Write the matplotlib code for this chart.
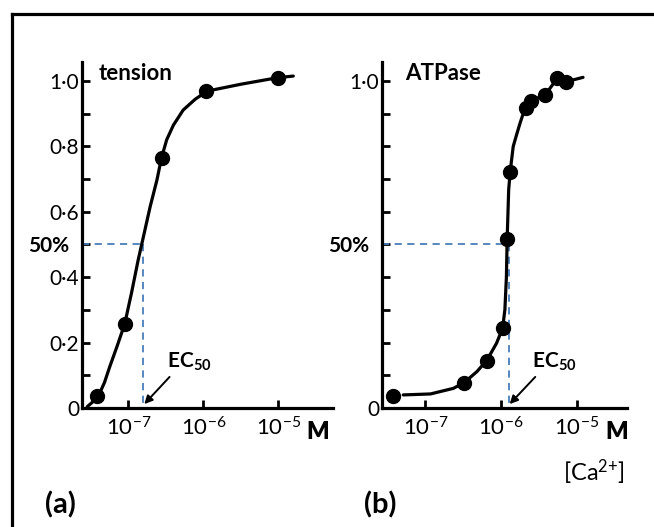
import matplotlib.pyplot as plt
import numpy as np

plt.rcParams['font.family'] = ['Lato', 'DejaVu Sans']
plt.rcParams['mathtext.fontset'] = 'custom'
plt.rcParams['mathtext.rm'] = 'Lato'
plt.rcParams['mathtext.it'] = 'Lato:italic'
plt.rcParams['mathtext.bf'] = 'Lato:bold'

# measured points, [Ca2+] in M against relative activity
tension_ca = [3.8e-8, 8.9e-8, 2.8e-7, 1.1e-6, 1.0e-5]
tension_val = [0.037, 0.257, 0.765, 0.97, 1.01]

atpase_ca = [3.8e-8, 3.2e-7, 6.5e-7, 1.05e-6, 1.2e-6, 1.32e-6,
             2.14e-6, 2.45e-6, 3.8e-6, 5.5e-6, 7.2e-6]
atpase_val = [0.037, 0.077, 0.145, 0.245, 0.517, 0.723,
              0.916, 0.94, 0.957, 1.008, 0.998]

# hand drawn curves (log10 of [Ca2+], value)
tension_curve_logx = [-7.55, -7.48, -7.40, -7.32, -7.25, -7.15, -7.05, -6.96, -6.87,
                      -6.80, -6.71, -6.62, -6.56, -6.49, -6.40, -6.27, -6.11, -5.95,
                      -5.50, -5.01, -4.80]
tension_curve_y = [0.004, 0.018, 0.037, 0.078, 0.126, 0.19, 0.257, 0.351, 0.453,
                   0.524, 0.616, 0.697, 0.764, 0.82, 0.865, 0.911, 0.944, 0.969,
                   0.99, 1.01, 1.015]

atpase_curve_logx = [-7.29, -6.93, -6.63, -6.49, -6.32, -6.19, -6.06, -5.98, -5.95,
                     -5.93, -5.92, -5.90, -5.88, -5.84, -5.79, -5.75, -5.71, -5.67,
                     -5.61, -5.42, -5.26, -5.14, -4.92]
atpase_curve_y = [0.040, 0.043, 0.060, 0.077, 0.111, 0.145, 0.198, 0.244, 0.30,
                  0.40, 0.516, 0.667, 0.723, 0.80, 0.84, 0.871, 0.899, 0.916,
                  0.94, 0.957, 1.008, 0.998, 1.011]

# EC50 values
tension_ec50 = 1.58e-7
atpase_ec50 = 1.26e-6

xticks = [1e-7, 1e-6, 1e-5]
xtick_labels = [r'$10^{-7}$', r'$10^{-6}$', r'$10^{-5}$']
yticks = [0, 0.1, 0.2, 0.3, 0.4, 0.5, 0.6, 0.7, 0.8, 0.9, 1.0]
ylabels_a = ['0', '', '0·2', '', '0·4', '', '0·6', '', '0·8', '', '1·0']
ylabels_b = ['0', '', '', '', '', '', '', '', '', '', '1·0']

W, H = 654, 527
fig = plt.figure(figsize=(W / 100, H / 100), dpi=100)

# frame lines (left and top)
fig.add_artist(plt.Line2D([12 / W, 12 / W], [0, 1 - 14 / H], color='black', lw=2.3))
fig.add_artist(plt.Line2D([12 / W, 1], [1 - 14 / H, 1 - 14 / H], color='black', lw=2.3))

ax_a = fig.add_axes([82 / W, 1 - 408 / H, 251 / W, 346 / H])
ax_b = fig.add_axes([382 / W, 1 - 408 / H, 245 / W, 346 / H])

panels = [
    (ax_a, tension_ca, tension_val, tension_curve_logx, tension_curve_y, tension_ec50,
     10 ** -7.62, 10 ** -4.27, ylabels_a, 'tension', 0.068),
    (ax_b, atpase_ca, atpase_val, atpase_curve_logx, atpase_curve_y, atpase_ec50,
     10 ** -7.57, 10 ** -4.34, ylabels_b, 'ATPase', 0.094),
]

for ax, cx, cy, clx, cly, ec50, x0, x1, ylab, title, tx in panels:
    ax.set_xscale('log')
    ax.set_xlim(x0, x1)
    ax.set_ylim(0, 1.058)
    ax.plot(np.power(10.0, clx), cly, color='black', lw=2.3, solid_capstyle='round',
            solid_joinstyle='round', zorder=3)
    ax.plot(cx, cy, 'o', color='black', ms=10, zorder=4)

    # EC50 guide lines
    ax.plot([x0, ec50], [0.5, 0.5], color='#4a7ebb', lw=1.3, ls=(0, (4, 3)), zorder=2)
    ax.plot([ec50, ec50], [0.5, 0], color='#4a7ebb', lw=1.3, ls=(0, (4, 3)), zorder=2)

    ax.annotate('50%', xy=(0, 0.5), xycoords=('axes fraction', 'data'),
                xytext=(-9, -1), textcoords='offset points', ha='right', va='center',
                fontsize=15, fontweight='bold')
    ax.annotate('', xy=(ec50 * 1.03, 0.012), xytext=(ec50 * 10 ** 0.35, 0.095),
                arrowprops=dict(arrowstyle='-|>', color='black', lw=1.4,
                                mutation_scale=12, shrinkA=0, shrinkB=0))
    ax.text(ec50 * 10 ** 0.31, 0.14, r'EC$\mathregular{_{50}}$', ha='left', va='center',
            fontsize=15, fontweight='bold')
    ax.text(tx, 0.968, title, transform=ax.transAxes, ha='left', va='center',
            fontsize=16, fontweight='bold')

    ax.set_xticks(xticks)
    ax.set_xticklabels(xtick_labels, fontsize=16)
    ax.xaxis.set_minor_locator(plt.NullLocator())
    ax.set_yticks(yticks)
    ax.set_yticklabels(ylab, fontsize=15)
    ax.tick_params(axis='both', direction='in', length=6, width=2)
    ax.tick_params(axis='x', pad=6)
    ax.tick_params(axis='y', pad=2)
    for side in ['top', 'right']:
        ax.spines[side].set_visible(False)
    for side in ['left', 'bottom']:
        ax.spines[side].set_linewidth(2.3)

fig.text(318 / W, 1 - 432 / H, 'M', ha='center', va='center', fontsize=17, fontweight='heavy')
fig.text(617 / W, 1 - 432 / H, 'M', ha='center', va='center', fontsize=17, fontweight='heavy')
fig.text(594 / W, 1 - 472 / H, r'[Ca$^{2\text{+}}$]', ha='center', va='center', fontsize=17)
fig.text(60 / W, 1 - 505 / H, '(a)', ha='center', va='center', fontsize=21, fontweight='bold')
fig.text(380 / W, 1 - 505 / H, '(b)', ha='center', va='center', fontsize=21, fontweight='bold')

fig.savefig('out.png', dpi=100, facecolor='white')
